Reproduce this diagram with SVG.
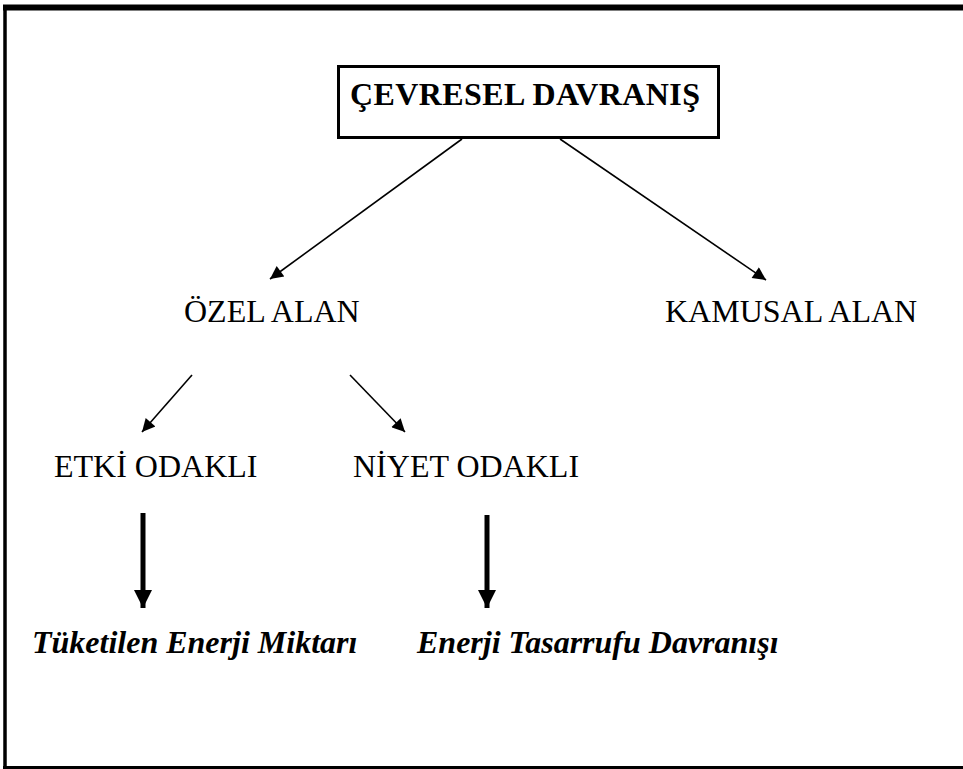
<svg xmlns="http://www.w3.org/2000/svg" width="963" height="769" viewBox="0 0 963 769">
<style>
  .t { font-family: "Liberation Serif", "Times New Roman", serif; font-size: 32px; fill: #000; }
  .b { font-weight: bold; }
  .bi { font-weight: bold; font-style: italic; }
  .thin { stroke: #000; stroke-width: 1.6; fill: none; }
  .thick { stroke: #000; stroke-width: 5; fill: none; }
</style>
<defs>
  <marker id="ah" viewBox="0 0 10 10" refX="10" refY="5" markerWidth="17" markerHeight="13" markerUnits="userSpaceOnUse" orient="auto">
    <path d="M0,0 L10,5 L0,10 Z" fill="#000"/>
  </marker>
  <marker id="ahb" viewBox="0 0 10 10" refX="10" refY="5" markerWidth="18" markerHeight="20" markerUnits="userSpaceOnUse" orient="auto">
    <path d="M0,0 L10,5 L0,10 Z" fill="#000"/>
  </marker>
</defs>
<rect x="0" y="0" width="963" height="769" fill="#fff"/>
<g id="frame">
  <line x1="3" y1="7.5" x2="963" y2="7.5" stroke="#000" stroke-width="6"/>
  <line x1="5" y1="5" x2="5" y2="769" stroke="#000" stroke-width="3.5"/>
  <line x1="3" y1="767.5" x2="963" y2="767.5" stroke="#000" stroke-width="3"/>
</g>
<g id="connectors">
  <line class="thin" x1="462" y1="139" x2="270" y2="279" marker-end="url(#ah)"/>
  <line class="thin" x1="560" y1="139" x2="766" y2="280" marker-end="url(#ah)"/>
  <line class="thin" x1="192" y1="375" x2="142" y2="432" marker-end="url(#ah)"/>
  <line class="thin" x1="350" y1="375" x2="405" y2="432" marker-end="url(#ah)"/>
  <line class="thick" x1="143" y1="513" x2="143" y2="608" marker-end="url(#ahb)"/>
  <line class="thick" x1="487" y1="515" x2="487" y2="608" marker-end="url(#ahb)"/>
</g>
<g id="cevresel">
  <rect x="338.5" y="66.5" width="380" height="71" fill="#fff" stroke="#000" stroke-width="3"/>
  <text class="t b" x="350" y="105" textLength="350">ÇEVRESEL DAVRANIŞ</text>
</g>
<g id="ozel"><text class="t" x="184" y="322">ÖZEL ALAN</text></g>
<g id="kamusal"><text class="t" x="665" y="322">KAMUSAL ALAN</text></g>
<g id="etki"><text class="t" x="54" y="477">ETKİ ODAKLI</text></g>
<g id="niyet"><text class="t" x="353" y="477">NİYET ODAKLI</text></g>
<g id="tuketilen"><text class="t bi" x="32" y="653">Tüketilen Enerji Miktarı</text></g>
<g id="tasarruf"><text class="t bi" x="417" y="653">Enerji Tasarrufu Davranışı</text></g>
</svg>
